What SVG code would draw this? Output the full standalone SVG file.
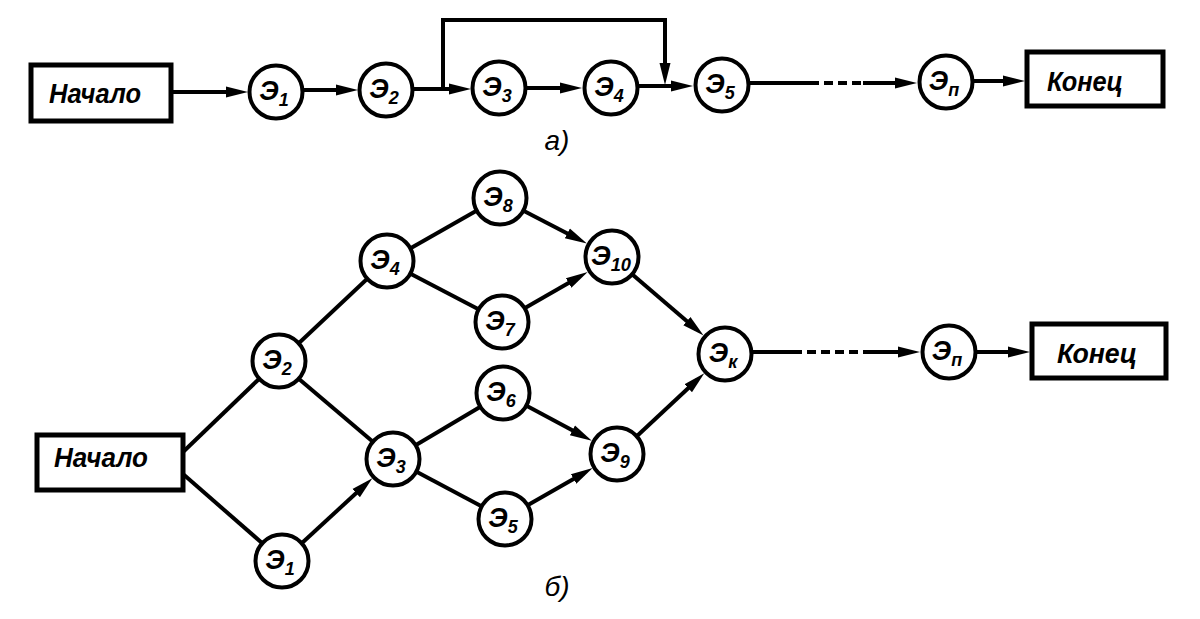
<svg xmlns="http://www.w3.org/2000/svg" width="1200" height="619" viewBox="0 0 1200 619">
<defs>
<style>
.bg{fill:#fff}
.c{fill:#fff;stroke:#000;stroke-width:4}
.b{fill:#fff;stroke:#000;stroke-width:5}
.ln{fill:none;stroke:#000;stroke-width:4;stroke-linecap:butt}
.ar{marker-end:url(#arr)}
.ds{stroke-dasharray:9 5}
.t{font-family:"Liberation Sans",Arial,sans-serif;font-style:italic;font-weight:bold;fill:#000;text-anchor:middle}
.e{font-size:27px}
.s{font-size:18px}
.bx{font-size:28px}
.cap{font-size:28px;font-weight:normal}
</style>
<marker id="arr" markerUnits="userSpaceOnUse" markerWidth="24" markerHeight="14" refX="12" refY="7" orient="auto">
<path d="M0,1.5 L22,7 L0,12.5 z" fill="#000"/>
</marker>
</defs>
<rect class="bg" x="0" y="0" width="1200" height="619"/>

<g id="connectors">
<line class="ln ar" x1="173" y1="92" x2="238" y2="92"/>
<line class="ln ar" x1="304" y1="90" x2="348" y2="90"/>
<line class="ln ar" x1="414" y1="89" x2="461" y2="89"/>
<path class="ln ar" d="M443,89 V20 H665 V75"/>
<line class="ln ar" x1="527" y1="88" x2="572" y2="88"/>
<line class="ln ar" x1="639" y1="86" x2="683" y2="86"/>
<line class="ln" x1="750" y1="83" x2="810" y2="83"/>
<line class="ln ds" x1="810" y1="83" x2="863" y2="83"/>
<line class="ln ar" x1="863" y1="83" x2="907" y2="83"/>
<line class="ln ar" x1="974" y1="81" x2="1015" y2="81"/>
<line class="ln" x1="183" y1="452" x2="259" y2="379"/>
<line class="ln" x1="183" y1="474" x2="262" y2="543"/>
<line class="ln" x1="299" y1="343" x2="367" y2="279"/>
<line class="ln" x1="299" y1="379" x2="372" y2="441"/>
<line class="ln ar" x1="302" y1="543" x2="365" y2="485"/>
<line class="ln" x1="411" y1="248" x2="476" y2="211"/>
<line class="ln" x1="411" y1="274" x2="478" y2="309"/>
<line class="ln" x1="416" y1="445" x2="480" y2="407"/>
<line class="ln" x1="417" y1="472" x2="481" y2="506"/>
<line class="ln ar" x1="524" y1="211" x2="578" y2="239"/>
<line class="ln ar" x1="525" y1="308" x2="579" y2="277"/>
<line class="ln ar" x1="527" y1="406" x2="583" y2="436"/>
<line class="ln ar" x1="528" y1="505" x2="584" y2="473"/>
<line class="ln ar" x1="633" y1="275" x2="696" y2="329"/>
<line class="ln ar" x1="637" y1="436" x2="697" y2="380"/>
<line class="ln" x1="753" y1="352" x2="793" y2="352"/>
<line class="ln ds" x1="793" y1="352" x2="865" y2="352"/>
<line class="ln ar" x1="865" y1="352" x2="910" y2="352"/>
<line class="ln ar" x1="977" y1="352" x2="1020" y2="352"/>
</g>

<g id="a-start"><rect class="b" x="31" y="65" width="140" height="56"/><text class="t bx" x="95" y="103" textLength="92" lengthAdjust="spacingAndGlyphs">Начало</text></g>
<g id="a-e1"><circle class="c" cx="276" cy="92" r="26.5"/><text class="t" x="274" y="100"><tspan class="e">Э</tspan><tspan class="s" dy="6">1</tspan></text></g>
<g id="a-e2"><circle class="c" cx="386" cy="90" r="26.5"/><text class="t" x="384" y="98"><tspan class="e">Э</tspan><tspan class="s" dy="6">2</tspan></text></g>
<g id="a-e3"><circle class="c" cx="499" cy="88" r="26.5"/><text class="t" x="497" y="96"><tspan class="e">Э</tspan><tspan class="s" dy="6">3</tspan></text></g>
<g id="a-e4"><circle class="c" cx="611" cy="88" r="26.5"/><text class="t" x="609" y="96"><tspan class="e">Э</tspan><tspan class="s" dy="6">4</tspan></text></g>
<g id="a-e5"><circle class="c" cx="722" cy="85" r="26.5"/><text class="t" x="720" y="93"><tspan class="e">Э</tspan><tspan class="s" dy="6">5</tspan></text></g>
<g id="a-en"><circle class="c" cx="946" cy="82" r="26.5"/><text class="t" x="944" y="90"><tspan class="e">Э</tspan><tspan class="s" dy="6">п</tspan></text></g>
<g id="a-end"><rect class="b" x="1027" y="52" width="136" height="54"/><text class="t bx" x="1085" y="91" textLength="76" lengthAdjust="spacingAndGlyphs">Конец</text></g>
<text class="t cap" x="557" y="150">а)</text>

<g id="b-start"><rect class="b" x="37" y="435" width="146" height="55"/><text class="t bx" x="101" y="467" textLength="94" lengthAdjust="spacingAndGlyphs">Начало</text></g>
<g id="b-e1"><circle class="c" cx="282" cy="561" r="26.5"/><text class="t" x="280" y="569"><tspan class="e">Э</tspan><tspan class="s" dy="6">1</tspan></text></g>
<g id="b-e2"><circle class="c" cx="279" cy="361" r="26.5"/><text class="t" x="277" y="369"><tspan class="e">Э</tspan><tspan class="s" dy="6">2</tspan></text></g>
<g id="b-e3"><circle class="c" cx="393" cy="459" r="26.5"/><text class="t" x="391" y="467"><tspan class="e">Э</tspan><tspan class="s" dy="6">3</tspan></text></g>
<g id="b-e4"><circle class="c" cx="387" cy="261" r="26.5"/><text class="t" x="385" y="269"><tspan class="e">Э</tspan><tspan class="s" dy="6">4</tspan></text></g>
<g id="b-e5"><circle class="c" cx="505" cy="519" r="26.5"/><text class="t" x="503" y="527"><tspan class="e">Э</tspan><tspan class="s" dy="6">5</tspan></text></g>
<g id="b-e6"><circle class="c" cx="503" cy="393" r="26.5"/><text class="t" x="501" y="401"><tspan class="e">Э</tspan><tspan class="s" dy="6">6</tspan></text></g>
<g id="b-e7"><circle class="c" cx="502" cy="322" r="26.5"/><text class="t" x="500" y="330"><tspan class="e">Э</tspan><tspan class="s" dy="6">7</tspan></text></g>
<g id="b-e8"><circle class="c" cx="500" cy="198" r="26.5"/><text class="t" x="498" y="206"><tspan class="e">Э</tspan><tspan class="s" dy="6">8</tspan></text></g>
<g id="b-e9"><circle class="c" cx="617" cy="454" r="26.5"/><text class="t" x="615" y="462"><tspan class="e">Э</tspan><tspan class="s" dy="6">9</tspan></text></g>
<g id="b-e10"><circle class="c" cx="612" cy="257" r="26.5"/><text class="t" x="611" y="265" textLength="40" lengthAdjust="spacingAndGlyphs"><tspan class="e">Э</tspan><tspan class="s" dy="6">10</tspan></text></g>
<g id="b-ek"><circle class="c" cx="725" cy="354" r="26.5"/><text class="t" x="723" y="362"><tspan class="e">Э</tspan><tspan class="s" dy="6">к</tspan></text></g>
<g id="b-en"><circle class="c" cx="949" cy="352" r="26.5"/><text class="t" x="947" y="360"><tspan class="e">Э</tspan><tspan class="s" dy="6">п</tspan></text></g>
<g id="b-end"><rect class="b" x="1032" y="324" width="134" height="54"/><text class="t bx" x="1097" y="363" textLength="80" lengthAdjust="spacingAndGlyphs">Конец</text></g>
<text class="t cap" x="557" y="596">б)</text>
</svg>
